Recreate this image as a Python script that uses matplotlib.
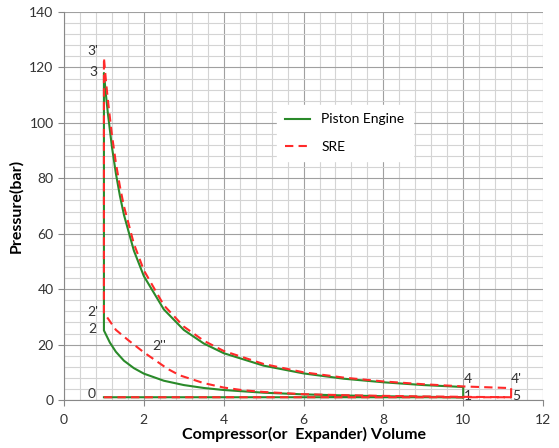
import matplotlib.pyplot as plt
from matplotlib.ticker import MultipleLocator

plt.rcParams['font.family'] = ['Lato', 'DejaVu Sans']

# Piston engine cycle: 0 -> 1, compression 1 -> 2, 2 -> 3, expansion 3 -> 4, 4 -> 1
piston_x = [1, 10,
            9, 8, 7, 6, 5, 4, 3.5, 3, 2.5, 2, 1.75, 1.5, 1.3, 1.15, 1,
            1,
            1.05, 1.1, 1.2, 1.3, 1.4, 1.5, 1.75, 2, 2.5, 3, 3.5, 4, 5, 6, 7, 8, 9, 10,
            10]
piston_y = [1, 1,
            1.16, 1.37, 1.65, 2.04, 2.64, 3.61, 4.35, 5.4, 6.96, 9.52, 11.5, 14.2, 17.4, 20.7, 25.1,
            118,
            110.2, 103.3, 91.4, 81.7, 73.7, 66.9, 53.9, 44.7, 32.7, 25.3, 20.4, 16.9, 12.4, 9.6, 7.7, 6.4, 5.4, 4.7,
            1]

# SRE cycle: 0 -> 5, compression 5 -> 2'' -> 2', 2' -> 3', expansion 3' -> 4', 4' -> 5
sre_x = [1, 11.2,
         10, 9, 8, 7, 6, 5, 4.5, 4, 3.5, 3.2, 2.9, 2.6, 2.3, 2.0, 1.6, 1.3, 1,
         1,
         1.05, 1.1, 1.2, 1.3, 1.4, 1.5, 1.75, 2, 2.5, 3, 3.5, 4, 5, 6, 7, 8, 9, 10, 11.2,
         11.2]
sre_y = [1, 1,
         1.15, 1.3, 1.5, 1.75, 2.1, 2.9, 3.5, 4.5, 6.1, 7.5, 8.9, 11.2, 14.2, 17.2, 21.7, 25.3, 31.5,
         123.5,
         115.3, 108.1, 95.7, 85.5, 77.1, 70.0, 56.4, 46.8, 34.2, 26.5, 21.4, 17.7, 13.0, 10.0, 8.1, 6.7, 5.7, 4.9, 4.3,
         1]

point_labels = ["3'", "3", "2'", "2", "2''", "0", "4", "4'", "1", "5"]
label_x = [0.73, 0.73, 0.73, 0.7, 2.22, 0.7, 10.02, 11.2, 10.02, 11.22]
label_y = [126.0, 118.5, 31.8, 25.6, 19.6, 2.0, 7.6, 7.6, 1.4, 1.4]

fig = plt.figure(figsize=(5.59, 4.48), dpi=100)
ax = fig.add_axes([0.1145, 0.1071, 0.857, 0.8661])

green = '#2a8a2a'
red = '#ff2a2a'
ax.plot(piston_x, piston_y, color=green, lw=1.5, label='Piston Engine', zorder=3)
ax.plot(sre_x, sre_y, color=red, lw=1.5, dashes=(4, 2.5), label='SRE', zorder=4)

for t, x, y in zip(point_labels, label_x, label_y):
    ax.text(x, y, t, fontsize=10, color='#333333', va='center', ha='left' if x > 2 else 'center')

ax.set_xlim(0, 12)
ax.set_ylim(0, 140)
ax.xaxis.set_major_locator(MultipleLocator(2))
ax.xaxis.set_minor_locator(MultipleLocator(0.4))
ax.yaxis.set_major_locator(MultipleLocator(20))
ax.yaxis.set_minor_locator(MultipleLocator(4))
ax.grid(which='major', color='#a0a0a0', lw=0.8)
ax.grid(which='minor', color='#d4d4d4', lw=0.8)
ax.set_axisbelow(True)

for s in ['top', 'right']:
    ax.spines[s].set_visible(False)
for s in ['left', 'bottom']:
    ax.spines[s].set_color('#888888')
ax.tick_params(which='major', direction='out', length=4, color='#888888', labelsize=10, labelcolor='#333333')
ax.tick_params(axis='x', which='major', pad=6)
ax.tick_params(which='minor', length=0)

ax.set_xlabel('Compressor(or  Expander) Volume', fontsize=11.5, fontweight='bold', labelpad=1)
ax.set_ylabel('Pressure(bar)', fontsize=11.5, fontweight='bold', labelpad=4)

leg = ax.legend(loc='upper left', bbox_to_anchor=(0.43, 0.778), frameon=True, fontsize=10,
                handlelength=1.8, labelspacing=1.1, borderpad=0.6)
leg.get_frame().set_edgecolor('white')
leg.get_frame().set_facecolor('white')
leg.get_frame().set_alpha(1)

fig.savefig('out.png', dpi=100)
